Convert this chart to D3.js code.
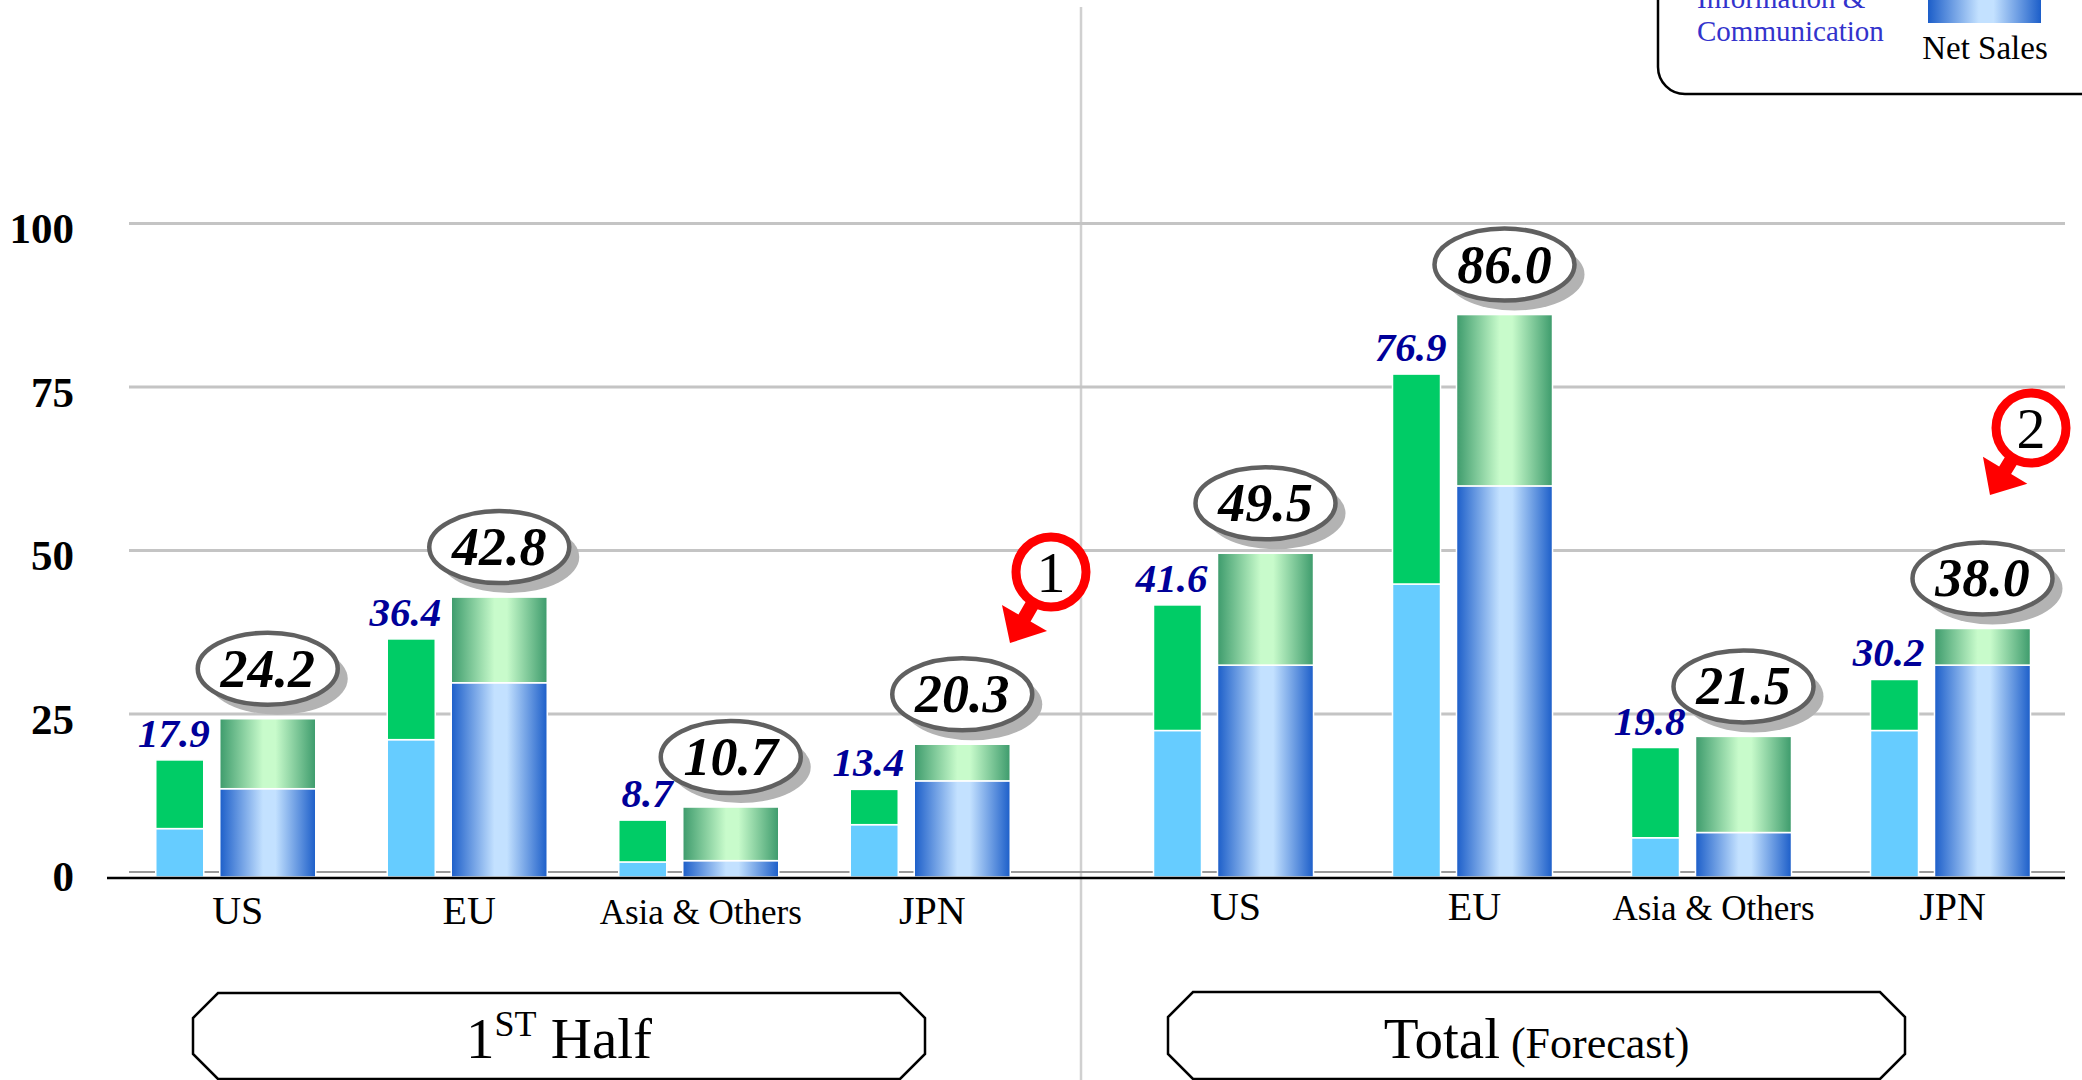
<!DOCTYPE html>
<html>
<head>
<meta charset="utf-8">
<script src="https://cdn.jsdelivr.net/npm/d3@7"></script>
<style>
  html, body { margin: 0; padding: 0; background: #fff; }
  svg { display: block; }
  text { font-family: "Liberation Serif", "Times New Roman", serif; }
</style>
</head>
<body>
<svg id="chart" width="2082" height="1080"></svg>
<script>
// ---- data ----
const categories = ["US", "EU", "Asia & Others", "JPN"];
const periods = ["1ST Half", "Total (Forecast)"];
const yTicks = [0, 25, 50, 75, 100];

// previous year (solid bars): totals and Information & Communication part
const prevTotal1H = [17.9, 36.4, 8.7, 13.4];
const prevIC1H    = [7.4, 21.0, 2.3, 8.0];
const prevTotalFY = [41.6, 76.9, 19.8, 30.2];
const prevICFY    = [22.4, 44.8, 6.0, 22.4];

// current year (gradient bars): net sales totals and Information & Communication part
const curTotal1H = [24.2, 42.8, 10.7, 20.3];
const curIC1H    = [13.5, 29.7, 2.5, 14.7];
const curTotalFY = [49.5, 86.0, 21.5, 38.0];
const curICFY    = [32.4, 59.8, 6.8, 32.4];

const markers = ["1", "2"];

// ---- chart ----
const svg = d3.select("#chart");
const W = 2082, H = 1080;

const defs = svg.append("defs");
function hGrad(id, edge, mid) {
  const g = defs.append("linearGradient").attr("id", id)
    .attr("x1", "0").attr("x2", "1").attr("y1", "0").attr("y2", "0");
  g.append("stop").attr("offset", "0").attr("stop-color", edge);
  g.append("stop").attr("offset", "0.45").attr("stop-color", mid);
  g.append("stop").attr("offset", "0.58").attr("stop-color", mid);
  g.append("stop").attr("offset", "1").attr("stop-color", edge);
}
hGrad("gBlue", "#1c5ec9", "#c3e1ff");
hGrad("gGreen", "#3d9b6c", "#c8fbcb");

const y = d3.scaleLinear().domain([0, 100]).range([877, 223]);

const xScales = [
  d3.scaleBand().domain(categories).range([120, 1046]),
  d3.scaleBand().domain(categories).range([1114, 2070])
];

// vertical divider
svg.append("line").attr("x1", 1081).attr("x2", 1081).attr("y1", 7).attr("y2", H)
  .attr("stroke", "#d0d0d0").attr("stroke-width", 2.5);

// gridlines
const gridAxis = d3.axisLeft(y).tickValues(yTicks.filter(d => d > 0))
  .tickSize(-(2065 - 129)).tickFormat("");
const gg = svg.append("g").attr("transform", "translate(129,0)").call(gridAxis);
gg.select(".domain").remove();
gg.selectAll(".tick line").attr("stroke", "#c4c4c4").attr("stroke-width", 3);

// zero gridline (gray, just above the black base line)
svg.append("line").attr("x1", 129).attr("x2", 2065)
  .attr("y1", y(0) - 5).attr("y2", y(0) - 5)
  .attr("stroke", "#9a9a9a").attr("stroke-width", 2);

// y labels
const labAxis = d3.axisLeft(y).tickValues(yTicks).tickSize(0).tickPadding(0);
const lg = svg.append("g").attr("transform", "translate(74,0)").call(labAxis);
lg.select(".domain").remove();
lg.selectAll(".tick text")
  .attr("dy", d => d === 0 ? "0.32em" : "0.46em")
  .attr("font-family", "'Liberation Serif', 'Times New Roman', serif")
  .attr("font-size", 43).attr("font-weight", "bold").attr("fill", "#000");

// build rows
const rows = [];
const sets = [
  [prevTotal1H, prevIC1H, curTotal1H, curIC1H],
  [prevTotalFY, prevICFY, curTotalFY, curICFY]
];
periods.forEach((p, pi) => {
  const x = xScales[pi];
  categories.forEach((c, ci) => {
    rows.push({
      period: pi, cat: c,
      cx: x(c) + x.bandwidth() / 2,
      prevTotal: sets[pi][0][ci], prevIC: sets[pi][1][ci],
      curTotal: sets[pi][2][ci], curIC: sets[pi][3][ci]
    });
  });
});

const bars = svg.append("g");
const PW = 48, CW = 96;
// previous bars
bars.selectAll("rect.pb").data(rows).join("rect")
  .attr("x", d => d.cx - 80).attr("width", PW)
  .attr("y", d => y(d.prevIC)).attr("height", d => y(0) - y(d.prevIC))
  .attr("fill", "#66ccff").attr("stroke", "#fff").attr("stroke-width", 1.5);
bars.selectAll("rect.pt").data(rows).join("rect")
  .attr("x", d => d.cx - 80).attr("width", PW)
  .attr("y", d => y(d.prevTotal)).attr("height", d => y(d.prevIC) - y(d.prevTotal))
  .attr("fill", "#00cc66").attr("stroke", "#fff").attr("stroke-width", 1.5);
// current bars
bars.selectAll("rect.cb").data(rows).join("rect")
  .attr("x", d => d.cx - 16).attr("width", CW)
  .attr("y", d => y(d.curIC)).attr("height", d => y(0) - y(d.curIC))
  .attr("fill", "url(#gBlue)").attr("stroke", "#fff").attr("stroke-width", 1.5);
bars.selectAll("rect.ct").data(rows).join("rect")
  .attr("x", d => d.cx - 16).attr("width", CW)
  .attr("y", d => y(d.curTotal)).attr("height", d => y(d.curIC) - y(d.curTotal))
  .attr("fill", "url(#gGreen)").attr("stroke", "#fff").attr("stroke-width", 1.5);

// black base line
svg.append("line").attr("x1", 107).attr("x2", 2065)
  .attr("y1", y(0) + 1).attr("y2", y(0) + 1)
  .attr("stroke", "#000").attr("stroke-width", 2.5);

// category labels
svg.append("g").selectAll("text").data(rows).join("text")
  .attr("x", d => d.cx + 2).attr("y", d => d.period === 0 ? 924 : 920)
  .attr("text-anchor", "middle")
  .attr("font-size", d => d.cat === "Asia & Others" ? 35 : 40)
  .attr("fill", "#000").text(d => d.cat);

// previous value labels
svg.append("g").selectAll("text").data(rows).join("text")
  .attr("x", d => d.cx - 80 + PW + 6).attr("y", d => y(d.prevTotal) - 13)
  .attr("text-anchor", "end").attr("font-size", 41)
  .attr("font-weight", "bold").attr("font-style", "italic")
  .attr("fill", "#000099").text(d => d.prevTotal.toFixed(1));

// current value ellipse labels
const el = svg.append("g").selectAll("g").data(rows).join("g")
  .attr("transform", d => `translate(${d.cx + 32},${y(d.curTotal) - 50})`);
el.append("ellipse").attr("cx", 10).attr("cy", 10).attr("rx", 70).attr("ry", 36)
  .attr("fill", "#b3b3b3");
el.append("ellipse").attr("rx", 70).attr("ry", 36)
  .attr("fill", "#fff").attr("stroke", "#606060").attr("stroke-width", 4.5);
el.append("text").attr("text-anchor", "middle").attr("y", 18)
  .attr("font-size", 54).attr("font-weight", "bold").attr("font-style", "italic")
  .attr("fill", "#000").text(d => d.curTotal.toFixed(1));

// red circled markers with arrows
const markerPos = [
  { cx: 1051, cy: 572, tx: 1010, ty: 643 },
  { cx: 2031, cy: 428, tx: 1990, ty: 495 }
];
markers.forEach((m, i) => {
  const p = markerPos[i];
  const g = svg.append("g");
  const dx = p.tx - p.cx, dy = p.ty - p.cy, L = Math.hypot(dx, dy);
  const ux = dx / L, uy = dy / L, nx = -uy, ny = ux;
  const r0 = 34, headLen = 29, headW = 26, shaftW = 7;
  const bx = p.tx - ux * headLen, by = p.ty - uy * headLen;
  const sx = p.cx + ux * r0, sy = p.cy + uy * r0;
  const pts = [
    [sx + nx * shaftW, sy + ny * shaftW],
    [bx + nx * shaftW, by + ny * shaftW],
    [bx + nx * headW, by + ny * headW],
    [p.tx, p.ty],
    [bx - nx * headW, by - ny * headW],
    [bx - nx * shaftW, by - ny * shaftW],
    [sx - nx * shaftW, sy - ny * shaftW]
  ];
  g.append("polygon").attr("points", pts.map(q => q.join(",")).join(" ")).attr("fill", "#ff0000");
  g.append("circle").attr("cx", p.cx).attr("cy", p.cy).attr("r", 35)
    .attr("fill", "#fff").attr("stroke", "#ff0000").attr("stroke-width", 9);
  g.append("text").attr("x", p.cx).attr("y", p.cy + 20).attr("text-anchor", "middle")
    .attr("font-size", 58).attr("fill", "#000").text(m);
});

// bottom period boxes
function octo(x0, x1, y0, y1, c) {
  return [[x0 + c, y0], [x1 - c, y0], [x1, y0 + c], [x1, y1 - c], [x1 - c, y1],
          [x0 + c, y1], [x0, y1 - c], [x0, y0 + c]].map(q => q.join(",")).join(" ");
}
const boxes = [
  { x0: 193, x1: 925, y0: 993, y1: 1079 },
  { x0: 1168, x1: 1905, y0: 992, y1: 1079 }
];
boxes.forEach((b, i) => {
  svg.append("polygon").attr("points", octo(b.x0, b.x1, b.y0, b.y1, 25))
    .attr("fill", "#fff").attr("stroke", "#000").attr("stroke-width", 2.5);
  const t = svg.append("text").attr("x", (b.x0 + b.x1) / 2).attr("y", 1058)
    .attr("text-anchor", "middle").attr("fill", "#000");
  if (i === 0) {
    const parts = periods[0].split(" ");
    t.append("tspan").attr("font-size", 57).text(parts[0].slice(0, 1));
    t.append("tspan").attr("font-size", 36).attr("dy", -22).text(parts[0].slice(1));
    t.append("tspan").attr("font-size", 57).attr("dy", 22).text(" " + parts[1]);
  } else {
    const parts = periods[1].split(" ");
    t.append("tspan").attr("font-size", 57).text(parts[0]);
    t.append("tspan").attr("font-size", 44).text(" " + parts[1]);
  }
});

// legend (its top lies above the picture's top edge, as in the original slide)
const leg = svg.append("g");
leg.append("rect").attr("x", 1658).attr("y", -150).attr("width", 500).attr("height", 244)
  .attr("rx", 27).attr("ry", 27).attr("fill", "#fff").attr("stroke", "#000").attr("stroke-width", 2.5);
leg.append("text").attr("x", 1697).attr("y", 8).attr("font-size", 29).attr("fill", "#3333cc")
  .text("Information &");
leg.append("text").attr("x", 1697).attr("y", 41).attr("font-size", 29).attr("fill", "#3333cc")
  .text("Communication");
leg.append("rect").attr("x", 1928).attr("y", -40).attr("width", 113).attr("height", 63)
  .attr("fill", "url(#gBlue)");
leg.append("text").attr("x", 1985).attr("y", 59).attr("text-anchor", "middle")
  .attr("font-size", 33).attr("fill", "#000").text("Net Sales");
</script>
</body>
</html>
